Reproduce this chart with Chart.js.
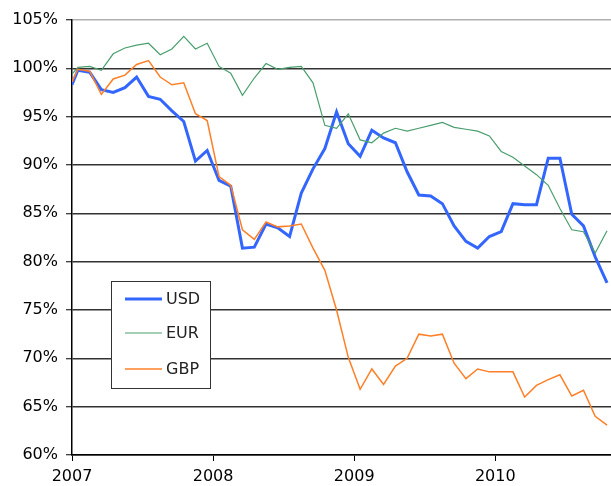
<!DOCTYPE html>
<html>
<head>
<meta charset="utf-8">
<script src="https://cdn.jsdelivr.net/npm/chart.js@4.4.1/dist/chart.umd.min.js"></script>
<style>
  html, body { margin: 0; padding: 0; background: #ffffff; }
  #wrap { width: 611px; height: 486px; }
</style>
</head>
<body>
<div id="wrap"><canvas id="c" width="611" height="486"></canvas></div>
<script>
// Dates as decimal years (first point at 1 Jan 2007, then mid-month)
const dates = [2007.000, 2007.042, 2007.125, 2007.208, 2007.292, 2007.375, 2007.458, 2007.542, 2007.625, 2007.708, 2007.792, 2007.875, 2007.958,
               2008.042, 2008.125, 2008.208, 2008.292, 2008.375, 2008.458, 2008.542, 2008.625, 2008.708, 2008.792, 2008.875, 2008.958,
               2009.042, 2009.125, 2009.208, 2009.292, 2009.375, 2009.458, 2009.542, 2009.625, 2009.708, 2009.792, 2009.875, 2009.958,
               2010.042, 2010.125, 2010.208, 2010.292, 2010.375, 2010.458, 2010.542, 2010.625, 2010.708, 2010.792];

const seriesNames = ['USD', 'EUR', 'GBP'];

const usd = [98.3, 99.8, 99.6, 97.8, 97.5, 98.0, 99.1, 97.1, 96.8, 95.6, 94.5, 90.4, 91.5,
             88.4, 87.8, 81.4, 81.5, 83.9, 83.5, 82.6, 87.1, 89.6, 91.7, 95.5, 92.2,
             90.9, 93.6, 92.8, 92.3, 89.3, 86.9, 86.8, 86.0, 83.7, 82.1, 81.4, 82.6,
             83.1, 86.0, 85.9, 85.9, 90.7, 90.7, 84.9, 83.7, 80.5, 77.8];

const eur = [99.4, 100.1, 100.2, 99.8, 101.5, 102.1, 102.4, 102.6, 101.4, 102.0, 103.3, 102.0, 102.6,
             100.2, 99.5, 97.2, 99.0, 100.5, 99.9, 100.1, 100.2, 98.5, 94.1, 93.8, 95.3,
             92.6, 92.3, 93.3, 93.8, 93.5, 93.8, 94.1, 94.4, 93.9, 93.7, 93.5, 93.0,
             91.4, 90.8, 89.9, 89.0, 87.9, 85.5, 83.3, 83.1, 80.9, 83.2];

const gbp = [98.6, 99.9, 99.7, 97.3, 98.9, 99.3, 100.4, 100.8, 99.1, 98.3, 98.5, 95.3, 94.6,
             88.8, 87.9, 83.3, 82.3, 84.1, 83.6, 83.7, 83.9, 81.4, 79.1, 75.0, 70.1,
             66.8, 68.9, 67.3, 69.2, 70.0, 72.5, 72.3, 72.5, 69.5, 67.9, 68.9, 68.6,
             68.6, 68.6, 66.0, 67.2, 67.8, 68.3, 66.1, 66.7, 64.0, 63.1];

const xTickYears = [2007, 2008, 2009, 2010];
const yMin = 60, yMax = 105, yStep = 5;
const xMin = 2007, xMax = 2010.82;

const colors = { USD: '#3366ff', EUR: '#4a9e6e', GBP: '#ff7f27' };
const widths = { USD: 3, EUR: 1.2, GBP: 1.5 };
const FONT = "'DejaVu Sans', Verdana, sans-serif";

function pts(vals) { return vals.map((v, i) => ({ x: dates[i], y: v })); }

const legendPlugin = {
  id: 'boxLegend',
  afterDatasetsDraw(chart) {
    const ctx = chart.ctx;
    const bx = 111.5, by = 281.5, bw = 99, bh = 107;
    ctx.save();
    ctx.fillStyle = '#ffffff';
    ctx.fillRect(bx, by, bw, bh);
    ctx.strokeStyle = '#333333';
    ctx.lineWidth = 1;
    ctx.strokeRect(bx, by, bw, bh);
    const rows = [299, 333, 369];
    ctx.font = '16px ' + FONT;
    ctx.textBaseline = 'middle';
    ctx.textAlign = 'left';
    seriesNames.forEach((n, i) => {
      ctx.strokeStyle = colors[n];
      ctx.lineWidth = widths[n];
      ctx.beginPath();
      ctx.moveTo(125, rows[i]);
      ctx.lineTo(162, rows[i]);
      ctx.stroke();
      ctx.fillStyle = '#222222';
      ctx.fillText(n, 166, rows[i] + 1);
    });
    ctx.restore();
  }
};

new Chart(document.getElementById('c'), {
  type: 'line',
  data: {
    datasets: [
      { label: 'GBP', data: pts(gbp), borderColor: colors.GBP, borderWidth: widths.GBP, pointRadius: 0, tension: 0, fill: false },
      { label: 'EUR', data: pts(eur), borderColor: colors.EUR, borderWidth: widths.EUR, pointRadius: 0, tension: 0, fill: false },
      { label: 'USD', data: pts(usd), borderColor: colors.USD, borderWidth: widths.USD, pointRadius: 0, tension: 0, fill: false }
    ]
  },
  options: {
    responsive: false,
    animation: false,
    devicePixelRatio: 1,
    layout: { padding: { top: 20, right: 0, left: 0, bottom: 0 } },
    plugins: { legend: { display: false }, tooltip: { enabled: false } },
    scales: {
      x: {
        type: 'linear',
        min: xMin, max: xMax,
        afterBuildTicks(scale) { scale.ticks = xTickYears.map(v => ({ value: v })); },
        afterFit(scale) { scale.height = 31; },
        ticks: {
          callback: v => String(v),
          color: '#000000',
          font: { family: FONT, size: 16 },
          padding: 6,
          maxRotation: 0,
          autoSkip: false
        },
        grid: { drawOnChartArea: false, drawTicks: true, tickLength: 6, tickColor: '#000000', tickWidth: 1 },
        border: { display: true, color: '#000000', width: 1.5 }
      },
      y: {
        min: yMin, max: yMax,
        afterFit(scale) { scale.width = 72; },
        ticks: {
          stepSize: yStep,
          callback: v => v + '%',
          color: '#000000',
          font: { family: FONT, size: 16 },
          padding: 8
        },
        grid: {
          color: ctx => (ctx.tick && ctx.tick.value === yMax) ? '#b0b0b0' : '#333333',
          lineWidth: 1.5,
          tickColor: '#000000',
          tickLength: 6,
          tickWidth: 1
        },
        border: { display: true, color: '#000000', width: 1.5 }
      }
    }
  },
  plugins: [legendPlugin]
});
</script>
</body>
</html>
